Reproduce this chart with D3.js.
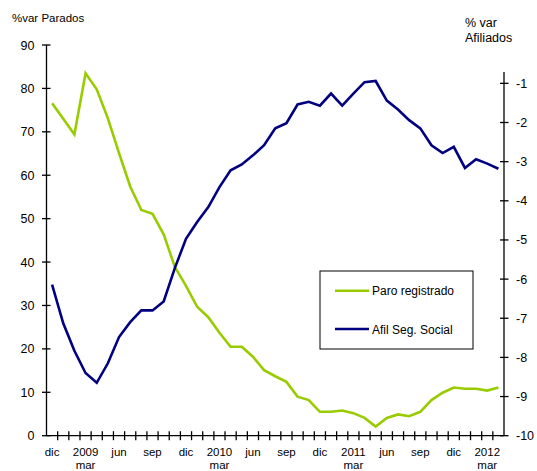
<!DOCTYPE html>
<html><head><meta charset="utf-8">
<script src="https://cdn.jsdelivr.net/npm/d3@7"></script>
<style>body{margin:0;background:#fff;overflow:hidden}svg{display:block}text{font-family:"Liberation Sans",Arial,sans-serif;fill:#000}</style>
</head><body>
<svg id="c" width="537" height="471"></svg>
<script>
const categories = ["dic-08","ene-09","feb-09","mar-09","abr-09","may-09","jun-09","jul-09","ago-09","sep-09","oct-09","nov-09",
"dic-09","ene-10","feb-10","mar-10","abr-10","may-10","jun-10","jul-10","ago-10","sep-10","oct-10","nov-10",
"dic-10","ene-11","feb-11","mar-11","abr-11","may-11","jun-11","jul-11","ago-11","sep-11","oct-11","nov-11",
"dic-11","ene-12","feb-12","mar-12","abr-12"];
const paroRegistrado = [76.6,73.0,69.4,83.5,79.8,73.1,65.1,57.4,52.0,51.1,46.4,38.9,
34.5,29.7,27.3,23.7,20.5,20.5,18.2,15.1,13.7,12.4,9.0,8.2,
5.5,5.5,5.8,5.2,4.1,2.1,4.1,4.9,4.5,5.5,8.2,9.9,
11.1,10.8,10.8,10.4,11.1];
const afilSegSocial = [-6.14,-7.13,-7.83,-8.40,-8.65,-8.15,-7.48,-7.10,-6.80,-6.80,-6.57,-5.72,
-4.97,-4.54,-4.16,-3.65,-3.22,-3.07,-2.84,-2.58,-2.15,-2.02,-1.54,-1.47,
-1.57,-1.26,-1.57,-1.26,-0.97,-0.94,-1.44,-1.67,-1.94,-2.15,-2.58,-2.78,
-2.62,-3.16,-2.94,-3.05,-3.18];
const xTickCats = ["dic-08","mar-09","jun-09","sep-09","dic-09","mar-10","jun-10","sep-10","dic-10","mar-11","jun-11","sep-11","dic-11","mar-12"];
const xTickLine1 = ["dic","2009","jun","sep","dic","2010","jun","sep","dic","2011","jun","sep","dic","2012"];
const xTickLine2 = ["","mar","","","","mar","","","","mar","","","","mar"];
const leftTicks = [0,10,20,30,40,50,60,70,80,90];
const rightTicks = [-10,-9,-8,-7,-6,-5,-4,-3,-2,-1];
const seriesNames = ["Paro registrado","Afil Seg. Social"];

const svg = d3.select("#c");
const L = 46.5, R = 504, T = 45, B = 435.7;
const x = d3.scaleBand().domain(categories).range([L, R]).padding(0);
const yL = d3.scaleLinear().domain([0, 90]).range([B, T]);
const yR = d3.scaleLinear().domain([-10, 0]).range([B, 44.2]);
const cx = c => x(c) + x.bandwidth() / 2;

// axes lines
const ax = svg.append("g").attr("stroke", "#000").attr("stroke-width", 1.3);
ax.append("line").attr("x1", L).attr("x2", L).attr("y1", T).attr("y2", B);
ax.append("line").attr("x1", R).attr("x2", R).attr("y1", 72).attr("y2", B);
ax.append("line").attr("x1", L).attr("x2", R).attr("y1", B).attr("y2", B);
// left ticks
leftTicks.forEach(v => {
  ax.append("line").attr("x1", L - 4.5).attr("x2", L + 4).attr("y1", yL(v)).attr("y2", yL(v));
  svg.append("text").attr("x", L - 12).attr("y", yL(v) + 4.5).attr("text-anchor", "end")
    .attr("font-size", 12.5).text(v);
});
// right ticks
rightTicks.forEach(v => {
  ax.append("line").attr("x1", R - 4).attr("x2", R + 4.5).attr("y1", yR(v)).attr("y2", yR(v));
  svg.append("text").attr("x", R + 12).attr("y", yR(v) + 4.5).attr("text-anchor", "start")
    .attr("font-size", 12.5).text(d3.format("d")(v).replace("−", "-"));
});
// bottom ticks (between categories)
categories.forEach((c, i) => {
  if (i === 0) return;
  ax.append("line").attr("x1", x(c)).attr("x2", x(c)).attr("y1", B - 4.5).attr("y2", B + 4.5);
});
xTickCats.forEach((c, i) => {
  svg.append("text").attr("x", cx(c)).attr("y", 455.5).attr("text-anchor", "middle")
    .attr("font-size", 11.5).text(xTickLine1[i]);
  if (xTickLine2[i]) svg.append("text").attr("x", cx(c)).attr("y", 468.5).attr("text-anchor", "middle")
    .attr("font-size", 11.5).text(xTickLine2[i]);
});

// titles
svg.append("text").attr("x", 12).attr("y", 22).attr("font-size", 11.5).text("%var Parados");
svg.append("text").attr("x", 465).attr("y", 27).attr("font-size", 12.5).text("% var");
svg.append("text").attr("x", 465).attr("y", 42).attr("font-size", 12.5).text("Afiliados");

// lines
const lineL = d3.line().x((d, i) => cx(categories[i])).y(d => yL(d));
const lineR = d3.line().x((d, i) => cx(categories[i])).y(d => yR(d));
svg.append("path").datum(paroRegistrado).attr("d", lineL).attr("fill", "none")
  .attr("stroke", "#99CC00").attr("stroke-width", 2.6).attr("stroke-linejoin", "miter");
svg.append("path").datum(afilSegSocial).attr("d", lineR).attr("fill", "none")
  .attr("stroke", "#000080").attr("stroke-width", 2.6).attr("stroke-linejoin", "miter");

// legend
const lg = svg.append("g");
lg.append("rect").attr("x", 320).attr("y", 271).attr("width", 153).attr("height", 78)
  .attr("fill", "#fff").attr("stroke", "#000").attr("stroke-width", 1);
const colors = ["#99CC00", "#000080"];
[290.7, 329].forEach((yy, i) => {
  lg.append("line").attr("x1", 335).attr("x2", 369).attr("y1", yy).attr("y2", yy)
    .attr("stroke", colors[i]).attr("stroke-width", 2.6);
  lg.append("text").attr("x", 372).attr("y", yy + 4.5).attr("font-size", 12).text(seriesNames[i]);
});
</script>
</body></html>
